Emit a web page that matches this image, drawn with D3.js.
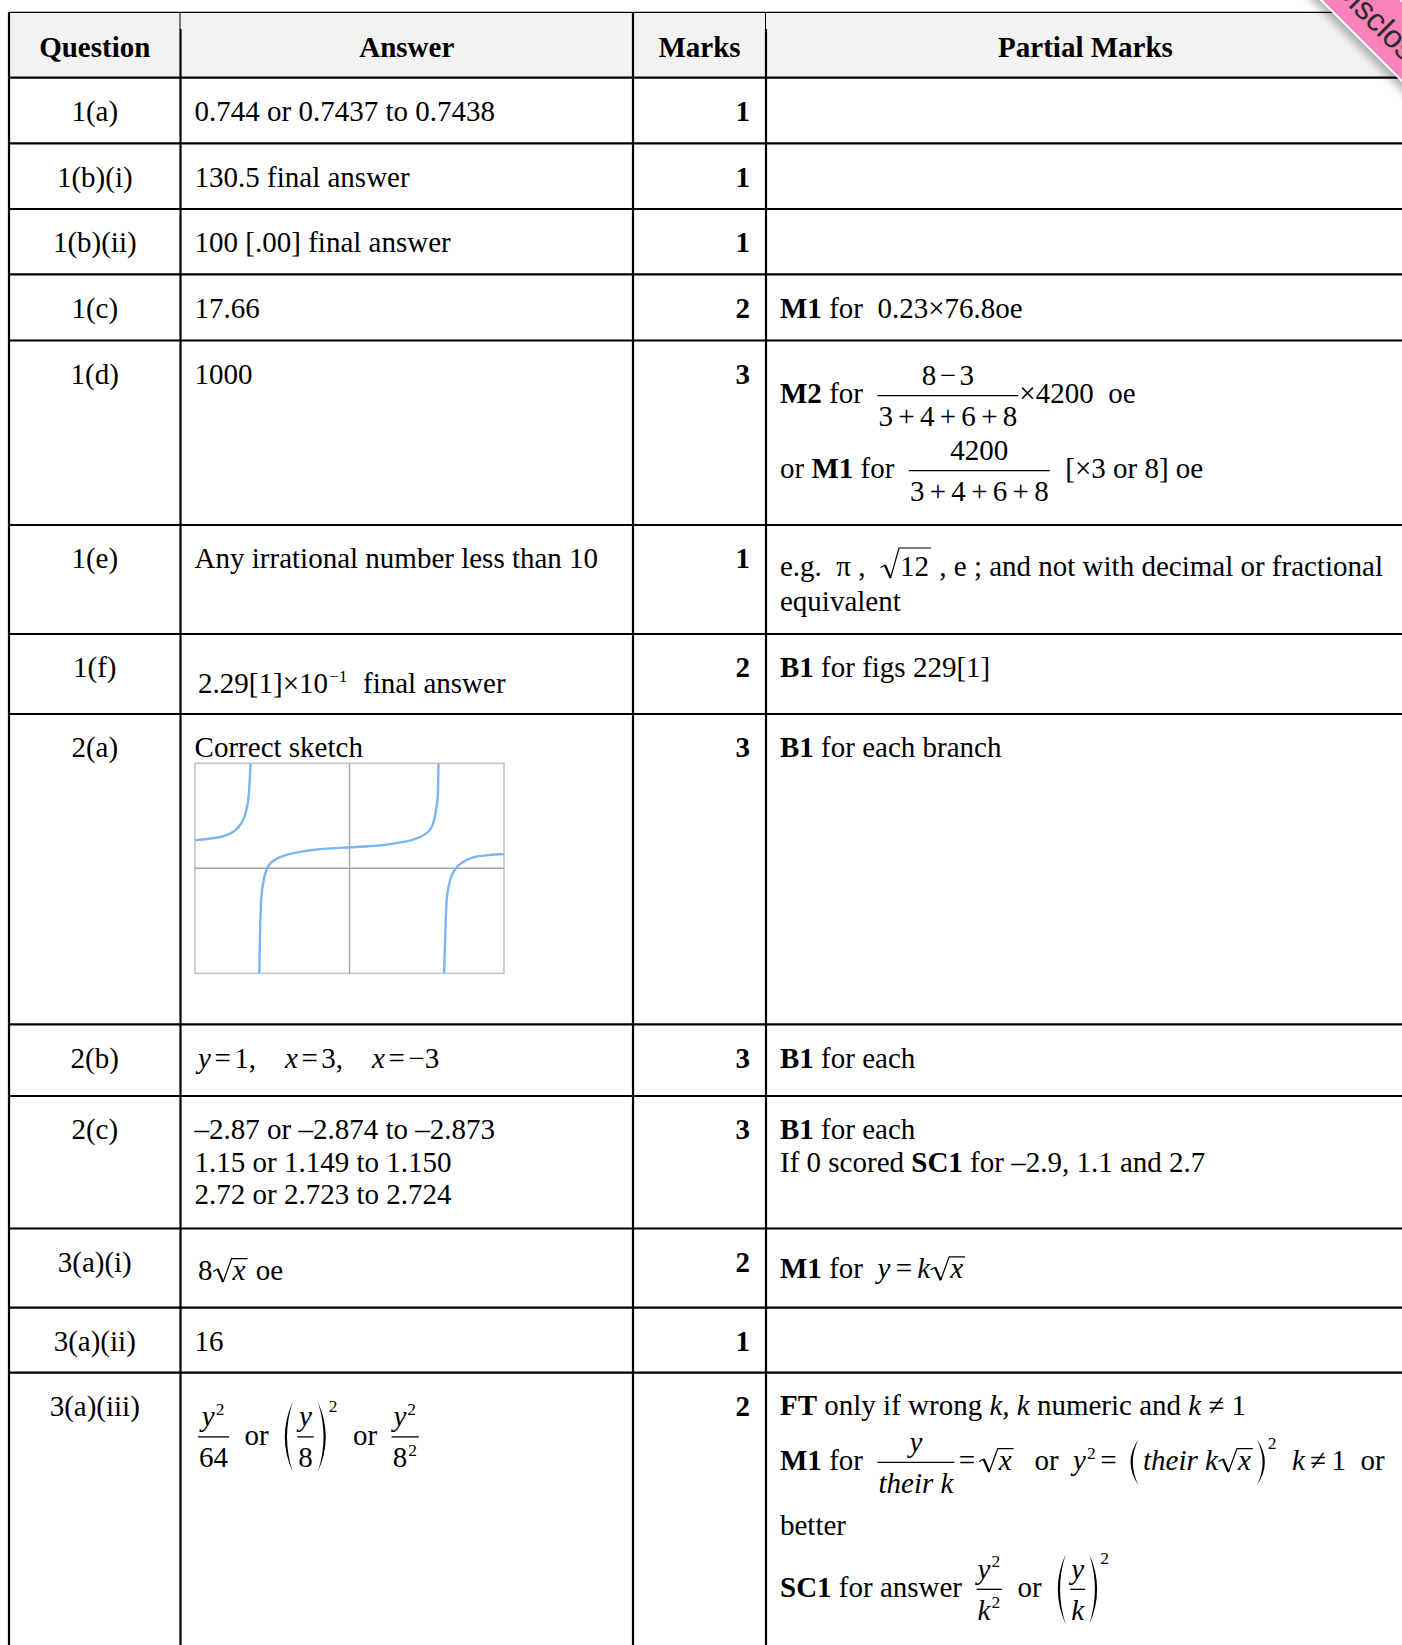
<!DOCTYPE html>
<html>
<head>
<meta charset="utf-8">
<script src="https://cdn.jsdelivr.net/npm/d3@7"></script>
<style>
  body { margin: 0; background: #fff; }
  svg text { white-space: pre; font-family: 'Liberation Serif', 'Times New Roman', serif; fill: #000; }
</style>
</head>
<body>
<svg id="chart" width="1402" height="1645"></svg>
<script>
// Table content. Markup: \b{} bold, \i{} italic, ^{} superscript,
// \frac{}{}, \sqrt{}, \paren{}, \, and \; are small math gaps.
const headers = ["Question", "Answer", "Marks", "Partial Marks"];

const questions = ["1(a)", "1(b)(i)", "1(b)(ii)", "1(c)", "1(d)", "1(e)", "1(f)",
  "2(a)", "2(b)", "2(c)", "3(a)(i)", "3(a)(ii)", "3(a)(iii)"];

const marks = [1, 1, 1, 2, 3, 1, 2, 3, 3, 3, 2, 1, 2];

const answers = [
  ["0.744 or 0.7437 to 0.7438"],
  ["130.5 final answer"],
  ["100 [.00] final answer"],
  ["17.66"],
  ["1000"],
  ["Any irrational number less than 10"],
  ["\\,2.29[1]×10^{−1}  final answer"],
  ["Correct sketch"],
  ["\\,\\i{y}\\,=\\,1,    \\i{x}\\,=\\,3,    \\i{x}\\,=\\,−3"],
  ["–2.87 or –2.874 to –2.873", "1.15 or 1.149 to 1.150", "2.72 or 2.723 to 2.724"],
  ["\\,8\\sqrt{\\i{x}} oe"],
  ["16"],
  ["\\,\\frac{\\i{y}^{2}}{64}  or  \\paren{\\frac{\\i{y}}{8}}^{2}  or  \\frac{\\i{y}^{2}}{8^{2}}"]
];

const partials = [
  [], [], [],
  ["\\b{M1} for  0.23×76.8oe"],
  ["\\b{M2} for  \\frac{8\\,−\\,3}{3\\;+\\;4\\;+\\;6\\;+\\;8}×4200  oe",
   "or \\b{M1} for  \\frac{4200}{3\\;+\\;4\\;+\\;6\\;+\\;8}  [×3 or 8] oe"],
  ["e.g.  π ,  \\sqrt{12} , e ; and not with decimal or fractional", "equivalent"],
  ["\\b{B1} for figs 229[1]"],
  ["\\b{B1} for each branch"],
  ["\\b{B1} for each"],
  ["\\b{B1} for each", "If 0 scored \\b{SC1} for –2.9, 1.1 and 2.7"],
  ["\\b{M1} for  \\i{y}\\;=\\;\\i{k}\\sqrt{\\i{x}}"],
  [],
  ["\\b{FT} only if wrong \\i{k, k} numeric and \\i{k} ≠ 1",
   "\\b{M1} for  \\frac{\\i{y}}{\\i{their k}}\\,=\\,\\sqrt{\\i{x}}\\;  or  \\i{y}^{2}\\,=\\; \\paren{\\i{their k}\\sqrt{\\i{x}}}^{2}  \\i{k}\\;≠\\;1  or",
   "better",
   "\\b{SC1} for answer  \\frac{\\i{y}^{2}}{\\i{k}^{2}}  or  \\paren{\\frac{\\i{y}}{\\i{k}}}^{2}"]
];

// Sketch for 2(a): points, three branches
const sketchLeft = [[-5, 1.33], [-4.5, 1.42], [-4.1, 1.52], [-3.75, 1.75], [-3.5, 2.15],
  [-3.35, 2.7], [-3.26, 3.5], [-3.2, 5]];
const sketchMiddle = [[-2.92, -5], [-2.9, -3.5], [-2.86, -1.5], [-2.78, -0.6], [-2.64, 0.08],
  [-2.4, 0.42], [-2.06, 0.63], [-1.6, 0.78], [-1.2, 0.87], [-0.6, 0.95], [0, 1], [0.6, 1.05],
  [1.2, 1.13], [1.6, 1.22], [2.06, 1.37], [2.4, 1.58], [2.64, 1.92], [2.78, 2.6], [2.86, 3.5], [2.88, 5]];
const sketchRight = [[3.06, -5], [3.1, -3.2], [3.14, -1.6], [3.25, -0.6], [3.42, -0.05],
  [3.7, 0.32], [4.0, 0.52], [4.5, 0.63], [5, 0.68]];
const sketchDomain = [-5, 5];

// Layout
const SIZE = 29;
const colX = [9, 180.5, 633, 766, 1405];
const tableTop = 12.3;
const headerBottom = 77.7;
const rowHeights = [65.6, 65.7, 65.3, 66.2, 184.5, 109, 80, 310.3, 71.7, 132.5, 79.2, 64.9, 300];
const firstBase = 43.2, lineStep = 32.4;
const answerBase = {6: [58.7], 10: [51.5], 12: [72]};
const partialBase = {4: [62.8, 137.8], 5: [51, 86], 10: [49.7], 12: [42.4, 97.4, 162.4, 224.4]};
const sketchRow = 7;
const sketchBox = {x0: 195, x1: 504, top: 49.3, bottom: 259.3};

const AXIS = -7.7, NUM_Y = -18.5, DEN_Y = 22.5;
const ROOT_W = 20;

const svg = d3.select('#chart');

// --- tiny markup parser ---
function parse(src) {
  let i = 0;
  function seq(stop) {
    const out = [];
    let buf = '';
    const flush = () => { if (buf) out.push({t: buf}); buf = ''; };
    while (i < src.length) {
      const c = src[i];
      if (c === stop) { i++; break; }
      if (c === '^') { flush(); i += 2; out.push({sup: seq('}')}); continue; }
      if (c === '\\') {
        flush(); i++;
        if (src[i] === ',') { out.push({kern: 3.5}); i++; continue; }
        if (src[i] === ';') { out.push({kern: 5.3}); i++; continue; }
        let name = '';
        while (i < src.length && /[a-z]/.test(src[i])) name += src[i++];
        i++;
        const a = seq('}');
        if (name === 'frac') { i++; const b = seq('}'); out.push({frac: [a, b]}); }
        else if (name === 'sqrt') out.push({sqrt: a});
        else if (name === 'paren') out.push({paren: a});
        else out.push({style: name, kids: a});
        continue;
      }
      buf += c; i++;
    }
    flush();
    return out;
  }
  return seq(null);
}

function textExtent(t, size) {
  const asc = /[A-Z0-9bdfhklt\[\]\/]/.test(t) ? 0.69 : 0.46;
  const desc = /[gjpqy,;\[\]]/.test(t) ? 0.22 : 0;
  return {top: -asc * size, bottom: desc * size};
}

function renderNodes(nodes, g, st) {
  let x = 0, top = 0, bottom = 0, prev = null;
  nodes.forEach(n => {
    const sub = g.append('g').attr('transform', `translate(${x},0)`);
    const r = renderNode(n, sub, st, prev);
    x += r.w;
    top = Math.min(top, r.top);
    bottom = Math.max(bottom, r.bottom);
    prev = r;
  });
  return {w: x, top, bottom};
}

function renderNode(n, g, st, prev) {
  if (n.kern !== undefined) return {w: n.kern, top: 0, bottom: 0};
  if (n.t !== undefined) {
    const t = g.append('text')
      .attr('font-size', st.size)
      .attr('font-weight', st.bold ? 'bold' : 'normal')
      .attr('font-style', st.italic ? 'italic' : 'normal')
      .text(n.t);
    const e = textExtent(n.t, st.size);
    return {w: t.node().getComputedTextLength(), top: e.top, bottom: e.bottom};
  }
  if (n.style) {
    return renderNodes(n.kids, g, {...st, bold: st.bold || n.style === 'b', italic: st.italic || n.style === 'i'});
  }
  if (n.sup) {
    const dy = prev && prev.paren ? prev.top + 10 : -0.38 * st.size;
    const inner = g.append('g').attr('transform', `translate(1,${dy})`);
    const r = renderNodes(n.sup, inner, {...st, size: st.size * 0.6});
    return {w: r.w + 2, top: dy + r.top, bottom: 0};
  }
  if (n.frac) {
    const ng = g.append('g'), dg = g.append('g');
    const rn = renderNodes(n.frac[0], ng, st);
    const rd = renderNodes(n.frac[1], dg, st);
    const W = Math.max(rn.w, rd.w) + 2;
    ng.attr('transform', `translate(${(W - rn.w) / 2},${NUM_Y})`);
    dg.attr('transform', `translate(${(W - rd.w) / 2},${DEN_Y})`);
    g.append('line')
      .attr('x1', 0).attr('x2', W).attr('y1', AXIS).attr('y2', AXIS)
      .attr('stroke', '#000').attr('stroke-width', 1.3);
    return {w: W + 1, top: NUM_Y + rn.top, bottom: DEN_Y + rd.bottom};
  }
  if (n.sqrt) {
    const inner = g.append('g').attr('transform', `translate(${ROOT_W},0)`);
    const r = renderNodes(n.sqrt, inner, st);
    const Y = r.top - 8;
    const end = ROOT_W + r.w + 2;
    g.append('path')
      .attr('d', `M0.5,-8.5 L5,-11 M10.5,2 L${ROOT_W - 1},${Y} L${end},${Y}`)
      .attr('fill', 'none').attr('stroke', '#000').attr('stroke-width', 1.2);
    g.append('path')
      .attr('d', 'M5,-11 L10.5,2')
      .attr('fill', 'none').attr('stroke', '#000').attr('stroke-width', 2.2);
    return {w: end + 1, top: Y, bottom: 2};
  }
  if (n.paren) {
    const inner = g.append('g').attr('transform', 'translate(14,0)');
    const r = renderNodes(n.paren, inner, st);
    const half = Math.max(AXIS - r.top, r.bottom - AXIS, 18) + 5;
    const y1 = AXIS - half, y2 = AXIS + half, mid = AXIS;
    const xr = 14 + r.w + 3;
    g.append('path')
      .attr('d', `M9.5,${y1} Q-6.5,${mid} 9.5,${y2} Q-2,${mid} 9.5,${y1} Z`)
      .attr('fill', '#000');
    g.append('path')
      .attr('d', `M${xr},${y1} Q${xr + 16},${mid} ${xr},${y2} Q${xr + 11.5},${mid} ${xr},${y1} Z`)
      .attr('fill', '#000');
    return {w: xr + 10, top: y1, bottom: y2, paren: true};
  }
  return {w: 0, top: 0, bottom: 0};
}

// draws one markup line with its baseline at y
function drawRich(parent, src, x, y, anchor, st) {
  const g = parent.append('g');
  const r = renderNodes(parse(src), g, st || {size: SIZE, bold: false, italic: false});
  let x0 = x;
  if (anchor === 'middle') x0 = x - r.w / 2;
  if (anchor === 'end') x0 = x - r.w;
  g.attr('transform', `translate(${x0},${y})`);
  return r;
}

// --- table background and rules ---
const rowEdges = [headerBottom, ...Array.from(d3.cumsum(rowHeights), v => headerBottom + v)];

svg.append('rect')
  .attr('x', colX[0]).attr('y', tableTop)
  .attr('width', colX[4] - colX[0]).attr('height', headerBottom - tableTop)
  .attr('fill', '#f2f2f2');

// header
const headerBase = 56.7;
headers.forEach((h, c) => {
  drawRich(svg, `\\b{${h}}`, (colX[c] + colX[c + 1]) / 2, headerBase, 'middle');
});

// rows
questions.forEach((q, i) => {
  const top = rowEdges[i];
  drawRich(svg, q, (colX[0] + colX[1]) / 2, top + firstBase, 'middle');

  drawRich(svg, `\\b{${marks[i]}}`, colX[3] - 16, top + firstBase, 'end');

  const aBase = answerBase[i] || answers[i].map((d, k) => firstBase + k * lineStep);
  answers[i].forEach((line, k) => drawRich(svg, line, colX[1] + 14.1, top + aBase[k], 'start'));

  const pBase = partialBase[i] || partials[i].map((d, k) => firstBase + k * lineStep);
  partials[i].forEach((line, k) => drawRich(svg, line, colX[3] + 14, top + pBase[k], 'start'));
});

// sketch in 2(a)
(function drawSketch() {
  const top = rowEdges[sketchRow];
  const x = d3.scaleLinear().domain(sketchDomain).range([sketchBox.x0, sketchBox.x1]);
  const y = d3.scaleLinear().domain(sketchDomain).range([top + sketchBox.bottom, top + sketchBox.top]);
  const g = svg.append('g');
  g.append('clipPath').attr('id', 'sketch-clip')
    .append('rect')
    .attr('x', x(sketchDomain[0])).attr('y', y(sketchDomain[1]))
    .attr('width', x(sketchDomain[1]) - x(sketchDomain[0]))
    .attr('height', y(sketchDomain[0]) - y(sketchDomain[1]));
  g.append('rect')
    .attr('x', x(sketchDomain[0])).attr('y', y(sketchDomain[1]))
    .attr('width', x(sketchDomain[1]) - x(sketchDomain[0]))
    .attr('height', y(sketchDomain[0]) - y(sketchDomain[1]))
    .attr('fill', '#fff').attr('stroke', '#c4c4c4').attr('stroke-width', 1.6);
  g.append('line')
    .attr('x1', x(0)).attr('x2', x(0)).attr('y1', y(sketchDomain[0])).attr('y2', y(sketchDomain[1]))
    .attr('stroke', '#a3a3a3').attr('stroke-width', 1.4);
  g.append('line')
    .attr('x1', x(sketchDomain[0])).attr('x2', x(sketchDomain[1])).attr('y1', y(0)).attr('y2', y(0))
    .attr('stroke', '#a3a3a3').attr('stroke-width', 1.4);
  const line = d3.line().x(d => x(d[0])).y(d => y(d[1])).curve(d3.curveMonotoneX);
  g.selectAll('path.branch')
    .data([sketchLeft, sketchMiddle, sketchRight])
    .enter()
    .append('path')
    .attr('class', 'branch')
    .attr('d', line)
    .attr('clip-path', 'url(#sketch-clip)')
    .attr('fill', 'none')
    .attr('stroke', '#79b6f2')
    .attr('stroke-width', 2.4);
})();

// rules
const rules = svg.append('g').attr('stroke', '#000');
rules.append('line')
  .attr('x1', colX[0]).attr('x2', colX[4]).attr('y1', tableTop).attr('y2', tableTop)
  .attr('stroke-width', 1.2);
rowEdges.filter(v => v < 1645).forEach(v => {
  rules.append('line')
    .attr('x1', colX[0]).attr('x2', colX[4]).attr('y1', v).attr('y2', v)
    .attr('stroke-width', 2.2);
});
[colX[0], colX[1], colX[2], colX[3]].forEach((cx, c) => {
  const thinTop = (c === 1 || c === 3);
  if (thinTop) {
    rules.append('line').attr('x1', cx - 0.5).attr('x2', cx - 0.5)
      .attr('y1', tableTop).attr('y2', 30).attr('stroke-width', 1);
  }
  rules.append('line').attr('x1', cx).attr('x2', cx)
    .attr('y1', thinTop ? 29 : tableTop).attr('y2', 1645)
    .attr('stroke-width', 2.2);
});

// pink corner ribbon
const defs = svg.append('defs');
defs.append('filter').attr('id', 'ribbon-shadow')
  .attr('x', '-20%').attr('y', '-100%').attr('width', '140%').attr('height', '300%')
  .append('feGaussianBlur').attr('stdDeviation', 4);
const ribbon = svg.append('g').attr('transform', 'translate(1391.5,31.5) rotate(45)');
ribbon.append('rect')
  .attr('x', -220).attr('y', 22).attr('width', 440).attr('height', 12)
  .attr('fill', '#000').attr('opacity', 0.3)
  .attr('filter', 'url(#ribbon-shadow)');
ribbon.append('rect')
  .attr('x', -220).attr('y', -28).attr('width', 440).attr('height', 55)
  .attr('fill', '#f882b9');
ribbon.append('line')
  .attr('x1', -220).attr('x2', 220).attr('y1', 27.5).attr('y2', 27.5)
  .attr('stroke', '#fff').attr('stroke-width', 2);
ribbon.append('text')
  .attr('x', -3).attr('y', 2)
  .attr('text-anchor', 'middle')
  .attr('dominant-baseline', 'central')
  .style('font-family', "'Liberation Sans', Arial, sans-serif")
  .style('font-size', '32px')
  .style('fill', '#2a2a2a')
  .text('Disclosed');
</script>
</body>
</html>
